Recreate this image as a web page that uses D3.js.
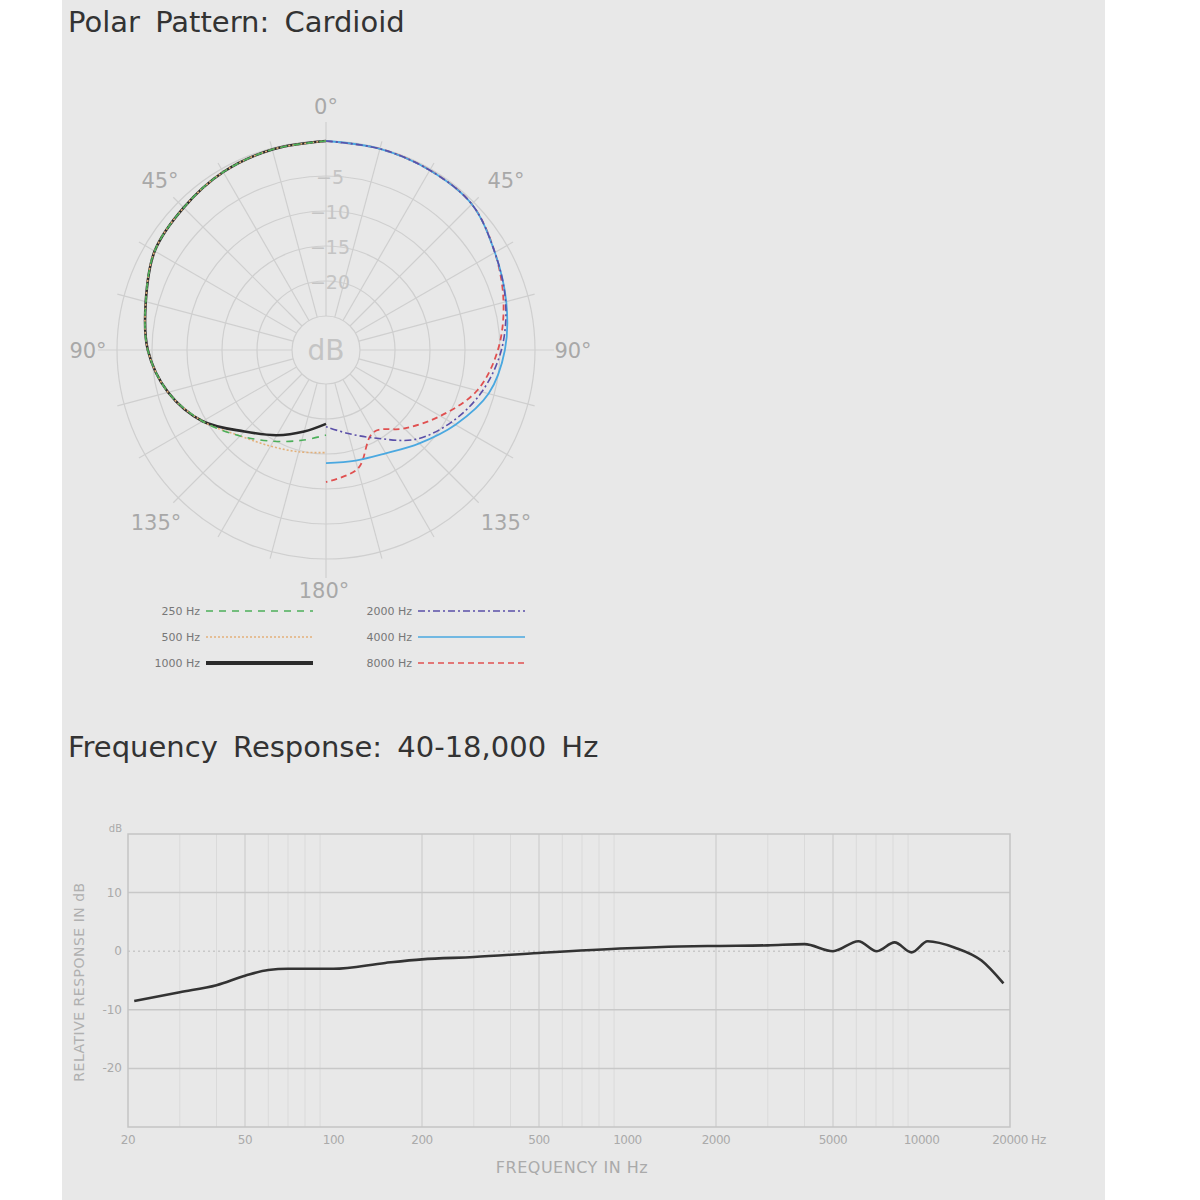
<!DOCTYPE html>
<html>
<head>
<meta charset="utf-8">
<script src="https://cdn.jsdelivr.net/npm/d3@7"></script>
<style>
  body { margin: 0; background: #fff; }
  svg { display: block; font-family: "DejaVu Sans", sans-serif; }
</style>
</head>
<body>
<svg id="chart" width="1200" height="1200"></svg>
<script>
// polar data: dB at angles 0..180 step 15 (left side = 250/500/1000, right side = 2000/4000/8000)
const angles = [0, 15, 30, 45, 60, 75, 90, 105, 120, 135, 150, 165, 180];
const polar250  = [0, -0.2, -0.5, -1.1, -1.6, -3.2, -4.4, -6.5, -9.5, -12.5, -14.8, -16.5, -17.7];
const polar500  = [0, -0.2, -0.5, -1.1, -1.6, -3.2, -4.4, -6.5, -9.5, -12.5, -14.0, -14.8, -15.2];
const polar1000 = [0, -0.2, -0.5, -1.1, -1.6, -3.2, -4.4, -6.5, -9.5, -13.4, -15.8, -17.8, -19.3];
const polar2000 = [0, -0.1, -0.2, -0.4, -2.0, -3.3, -4.8, -6.8, -9.2, -11.8, -15.3, -17.5, -18.9];
const polar4000 = [0, -0.1, -0.2, -0.4, -2.0, -3.2, -4.3, -5.8, -8.5, -11.0, -12.8, -13.5, -13.7];
const polar8000 = [0, -0.1, -0.2, -0.4, -2.0, -3.6, -5.3, -7.5, -11.0, -14.0, -16.3, -12.3, -11.0];
const ringLevels = [0, -5, -10, -15, -20, -25];
const angleLabels = ["0°", "45°", "90°", "135°", "180°"];

// frequency response
const freqs = [21, 30, 40, 50, 60, 70, 100, 150, 200, 300, 500, 1000, 1500, 2000, 3000, 4000, 5000, 6100, 7050, 8100, 9250, 10500, 13000, 16000, 19000];
const response = [-8.5, -7, -5.8, -4.2, -3.2, -3, -3, -2, -1.4, -1, -0.3, 0.5, 0.8, 0.9, 1, 1.2, 0, 1.7, 0, 1.5, -0.2, 1.7, 0.6, -1.6, -5.5];
const freqTicks = [20, 50, 100, 200, 500, 1000, 2000, 5000, 10000, 20000];
const dbTicks = [10, 0, -10, -20];

const svg = d3.select("#chart");
svg.append("rect").attr("x", 62).attr("y", 0).attr("width", 1043).attr("height", 1200).attr("fill", "#e8e8e8");

svg.append("text").attr("x", 68).attr("y", 32).attr("font-size", 29).attr("fill", "#333")
  .attr("word-spacing", 6).text("Polar Pattern: Cardioid");
svg.append("text").attr("x", 68).attr("y", 757).attr("font-size", 29).attr("fill", "#333")
  .attr("word-spacing", 6).text("Frequency Response: 40-18,000 Hz");

// ---- polar ----
const cx = 326, cy = 350;
const r = d3.scaleLinear().domain([-25, 0]).range([34, 209]);
const pg = svg.append("g").attr("transform", `translate(${cx},${cy})`);
const grid = "#cfcfcf";

pg.selectAll("circle.ring").data(ringLevels).join("circle")
  .attr("r", d => r(d)).attr("fill", "none").attr("stroke", grid).attr("stroke-width", 1.2);
d3.range(0, 360, 15).forEach(a => {
  const t = a * Math.PI / 180;
  const ro = a % 90 === 0 ? 228 : 216;
  pg.append("line")
    .attr("x1", r(-25) * Math.sin(t)).attr("y1", -r(-25) * Math.cos(t))
    .attr("x2", ro * Math.sin(t)).attr("y2", -ro * Math.cos(t))
    .attr("stroke", grid).attr("stroke-width", 1.2);
});
ringLevels.slice(1, 5).forEach(d => {
  pg.append("text").attr("x", 4).attr("y", -r(d) + 8).attr("text-anchor", "middle")
    .attr("font-size", 19).attr("fill", "#c4c4c4").text("−" + Math.abs(d));
});
pg.append("text").attr("y", 10).attr("text-anchor", "middle").attr("font-size", 28)
  .attr("fill", "#c4c4c4").text("dB");

const lbl = [
  [0, -236, angleLabels[0]], [-166, -162, angleLabels[1]], [180, -162, angleLabels[1]],
  [-238, 8, angleLabels[2]], [247, 8, angleLabels[2]],
  [-170, 180, angleLabels[3]], [180, 180, angleLabels[3]], [-2, 248, angleLabels[4]]
];
lbl.forEach(([x, y, t]) => pg.append("text").attr("x", x).attr("y", y).attr("text-anchor", "middle")
  .attr("font-size", 21).attr("fill", "#a8a8a8").text(t));

const series = [
  { name: "250 Hz",  vals: polar250,  side: -1, color: "#4caf5a", dash: "7,6", w: 1.6 },
  { name: "500 Hz",  vals: polar500,  side: -1, color: "#e3b07a", dash: "2,2", w: 1.6 },
  { name: "1000 Hz", vals: polar1000, side: -1, color: "#2b2b2b", dash: null,  w: 2.6 },
  { name: "2000 Hz", vals: polar2000, side: 1,  color: "#5a4fa8", dash: "7,3,2,3", w: 1.6 },
  { name: "4000 Hz", vals: polar4000, side: 1,  color: "#4aa8e0", dash: null,  w: 1.8 },
  { name: "8000 Hz", vals: polar8000, side: 1,  color: "#e05050", dash: "6,4", w: 1.8 }
];
const radial = d3.lineRadial().curve(d3.curveCatmullRom);
// draw right group first so the black left trace sits on top
series.slice().reverse().forEach(s => {
  const pts = angles.map((a, i) => [s.side * a * Math.PI / 180, r(s.vals[i])]);
  pg.append("path").attr("d", radial(pts)).attr("fill", "none")
    .attr("stroke", s.color).attr("stroke-width", s.w).attr("stroke-dasharray", s.dash);
});

// legend
const legend = svg.append("g");
series.forEach((s, i) => {
  const col = s.side < 0 ? 0 : 1;
  const row = i % 3;
  const tx = col ? 412 : 200, y = 611 + row * 26;
  legend.append("text").attr("x", tx).attr("y", y + 4).attr("text-anchor", "end")
    .attr("font-size", 11).attr("fill", "#777").text(s.name);
  legend.append("line").attr("x1", tx + 6).attr("x2", tx + 113).attr("y1", y).attr("y2", y)
    .attr("stroke", s.color).attr("stroke-width", s.name === "1000 Hz" ? 4 : 1.6)
    .attr("stroke-dasharray", s.dash);
});

// ---- frequency response ----
const x = d3.scaleLog().domain([20, 20000]).range([128, 1010]);
const y = d3.scaleLinear().domain([-30, 20]).range([1127, 834]);
const fg = svg.append("g");
const minor = [];
[20, 200, 2000].forEach(b => [1, 1.5, 2, 2.5, 3, 3.5, 4, 4.5].forEach(m => minor.push(b * m)));
fg.selectAll("line.vminor").data(minor.filter(f => f > 20 && f < 20000)).join("line")
  .attr("x1", d => x(d)).attr("x2", d => x(d)).attr("y1", y(20)).attr("y2", y(-30))
  .attr("stroke", d => freqTicks.includes(d) ? "#c8c8c8" : "#dadada").attr("stroke-width", 1)
  .attr("stroke-dasharray", d => d === 1000 ? "3,3" : null);
fg.selectAll("line.h").data(dbTicks).join("line")
  .attr("x1", x(20)).attr("x2", x(20000)).attr("y1", d => y(d)).attr("y2", d => y(d))
  .attr("stroke", "#c8c8c8").attr("stroke-width", 1.5)
  .attr("stroke-dasharray", d => d === 0 ? "2,3" : null);
fg.append("rect").attr("x", x(20)).attr("y", y(20)).attr("width", x(20000) - x(20))
  .attr("height", y(-30) - y(20)).attr("fill", "none").attr("stroke", "#c4c4c4").attr("stroke-width", 1.5);

fg.selectAll("text.xt").data(freqTicks).join("text")
  .attr("x", d => x(d)).attr("y", 1144).attr("text-anchor", "middle")
  .attr("font-size", 12).attr("fill", "#aaa").attr("letter-spacing", -0.5).text(d => d);
fg.append("text").attr("x", 1031).attr("y", 1144).attr("font-size", 12).attr("fill", "#aaa").text("Hz");
fg.selectAll("text.yt").data(dbTicks).join("text")
  .attr("x", 122).attr("y", d => y(d) + 4).attr("text-anchor", "end")
  .attr("font-size", 12).attr("fill", "#aaa").text(d => d);
fg.append("text").attr("x", 122).attr("y", y(20) - 2).attr("text-anchor", "end")
  .attr("font-size", 10).attr("fill", "#aaa").text("dB");
fg.append("text").attr("transform", "translate(84,982) rotate(-90)").attr("text-anchor", "middle")
  .attr("font-size", 14).attr("fill", "#b0b0b0").attr("letter-spacing", 0.5)
  .text("RELATIVE RESPONSE IN dB");
fg.append("text").attr("x", 572).attr("y", 1173).attr("text-anchor", "middle")
  .attr("font-size", 16).attr("fill", "#aaa").attr("letter-spacing", 0.5).text("FREQUENCY IN Hz");

const line = d3.line().x(d => x(d[0])).y(d => y(d[1])).curve(d3.curveMonotoneX);
fg.append("path").attr("d", line(freqs.map((f, i) => [f, response[i]])))
  .attr("fill", "none").attr("stroke", "#333").attr("stroke-width", 2.6);
</script>
</body>
</html>
